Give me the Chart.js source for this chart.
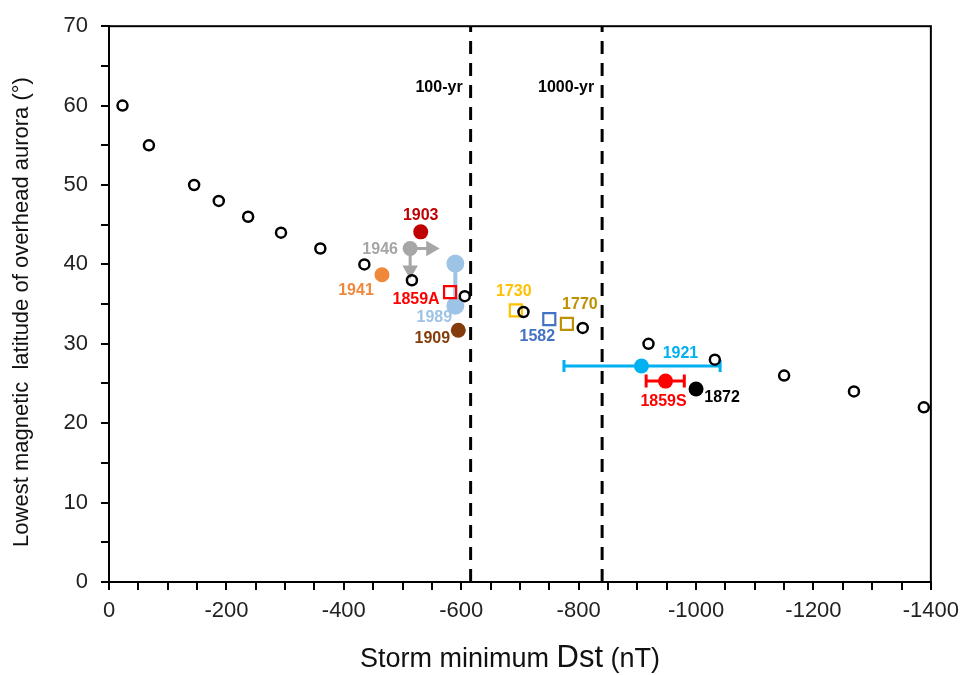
<!DOCTYPE html>
<html>
<head>
<meta charset="utf-8">
<script src="https://cdn.jsdelivr.net/npm/chart.js@4.4.0/dist/chart.umd.min.js"></script>
<style>
  html, body { margin: 0; padding: 0; background: #fff; }
</style>
</head>
<body>
<canvas id="auroraChart" width="967" height="675"></canvas>
<script>
// empirical Dst - latitude relation (open circles)
const curveDst = [-23, -68, -145, -187, -237, -293, -360, -435, -516, -606, -706, -807, -919, -1032, -1150, -1269, -1388];
const curveLat = [60, 55, 50, 48, 46, 44, 42, 40, 38, 36, 34, 32, 30, 28, 26, 24, 22];

// storms with Dst estimates (filled circles)
const stormNames = ["1903", "1946", "1941", "1909", "1921", "1859S", "1872"];
const stormDst = [-531, -513, -465, -595, -907, -948, -1000];
const stormLat = [44.1, 42, 38.7, 31.7, 27.2, 25.3, 24.3];
const stormColors = ["#c00000", "#a6a6a6", "#f0883c", "#843c0c", "#00b0f0", "#ff0000", "#000000"];

// storms from aurora records (open squares)
const recordNames = ["1859A", "1730", "1582", "1770"];
const recordDst = [-581, -693, -750, -780];
const recordLat = [36.5, 34.2, 33.1, 32.5];
const recordColors = ["#ff0000", "#ffc000", "#4472c4", "#bf9000"];

// 1989: latitude range
const dst1989 = -590;
const lat1989 = [40.1, 34.8];

// Dst uncertainty ranges
const range1921 = [-775, -1041];
const range1859S = [-915, -980];

// 1946 arrow heads (limits)
const arrow1946Dst = -548;
const arrow1946Lat = 39.3;

// return levels
const returnNames = ["100-yr", "1000-yr"];
const returnDst = [-616, -840];

const FONT = '"Liberation Sans", Arial, sans-serif';

function seg(xs, ys) {
  return xs.map((v, i) => ({ x: v, y: ys[i] }));
}

const labelOffsets = {
  "1903": [0, -16], "1946": [-30, 1], "1941": [-26, 16], "1909": [-26, 8],
  "1921": [39, -12], "1859S": [-2, 20], "1872": [26, 9],
  "1859A": [-34, 7], "1730": [-2, -19], "1582": [-12, 17], "1770": [13, -19]
};

const labelPlugin = {
  id: "stormLabels",
  afterDatasetsDraw(chart) {
    const { ctx, chartArea, scales: { x, y } } = chart;
    ctx.save();
    ctx.textAlign = "center";
    ctx.textBaseline = "middle";
    ctx.font = "bold 16px " + FONT;
    stormNames.forEach((name, i) => {
      const off = labelOffsets[name];
      ctx.fillStyle = name === "1946" ? "#a6a6a6" : stormColors[i];
      ctx.fillText(name, x.getPixelForValue(stormDst[i]) + off[0], y.getPixelForValue(stormLat[i]) + off[1]);
    });
    recordNames.forEach((name, i) => {
      const off = labelOffsets[name];
      ctx.fillStyle = recordColors[i];
      ctx.fillText(name, x.getPixelForValue(recordDst[i]) + off[0], y.getPixelForValue(recordLat[i]) + off[1]);
    });
    ctx.fillStyle = "#9dc3e6";
    ctx.fillText("1989", x.getPixelForValue(dst1989) - 21, y.getPixelForValue(lat1989[1]) + 12);

    ctx.fillStyle = "#000";
    ctx.textAlign = "right";
    returnNames.forEach((name, i) => {
      ctx.fillText(name, x.getPixelForValue(returnDst[i]) - 8, chartArea.top + 61);
    });

    // frame
    ctx.strokeStyle = "#000";
    ctx.lineWidth = 2;
    ctx.strokeRect(chartArea.left, chartArea.top, chartArea.right - chartArea.left, chartArea.bottom - chartArea.top);

    // axis titles
    ctx.textAlign = "center";
    ctx.fillStyle = "#111";
    ctx.font = "22px " + FONT;
    ctx.save();
    ctx.translate(22, 312);
    ctx.rotate(-Math.PI / 2);
    ctx.fillText("Lowest magnetic  latitude of overhead aurora (°)", 0, 0);
    ctx.restore();

    const parts = [["Storm minimum ", 27], ["Dst", 31], [" (nT)", 27]];
    let total = 0;
    parts.forEach(p => { ctx.font = p[1] + "px " + FONT; total += ctx.measureText(p[0]).width; });
    let px = 510 - total / 2;
    ctx.textAlign = "left";
    ctx.textBaseline = "alphabetic";
    parts.forEach(p => {
      ctx.font = p[1] + "px " + FONT;
      ctx.fillText(p[0], px, 667);
      px += ctx.measureText(p[0]).width;
    });
    ctx.restore();
  }
};

new Chart(document.getElementById("auroraChart"), {
  type: "scatter",
  data: {
    datasets: [
      {
        data: seg(curveDst, curveLat),
        pointRadius: 5,
        borderWidth: 2.5,
        borderColor: "#000",
        backgroundColor: "rgba(0,0,0,0)"
      },
      {
        data: seg(stormDst, stormLat),
        pointRadius: 7.5,
        borderWidth: 0,
        pointBackgroundColor: stormColors,
        pointBorderColor: stormColors
      },
      {
        data: seg(recordDst, recordLat),
        pointStyle: "rect",
        pointRadius: 8.5,
        borderWidth: 2.2,
        pointBorderColor: recordColors,
        backgroundColor: "rgba(0,0,0,0)"
      },
      {
        data: seg([dst1989, dst1989], lat1989),
        showLine: true,
        borderColor: "#9dc3e6",
        borderWidth: 4,
        pointRadius: 7,
        pointBackgroundColor: "#9dc3e6",
        pointBorderColor: "#9dc3e6"
      },
      {
        data: seg(range1921, [stormLat[4], stormLat[4]]),
        showLine: true,
        borderColor: "#00b0f0",
        borderWidth: 3,
        pointStyle: "line",
        pointRotation: 90,
        pointRadius: 6,
        pointBorderWidth: 3,
        pointBorderColor: "#00b0f0"
      },
      {
        data: seg(range1859S, [stormLat[5], stormLat[5]]),
        showLine: true,
        borderColor: "#ff0000",
        borderWidth: 3,
        pointStyle: "line",
        pointRotation: 90,
        pointRadius: 6.5,
        pointBorderWidth: 3,
        pointBorderColor: "#ff0000"
      },
      {
        data: seg([stormDst[1], arrow1946Dst], [stormLat[1], stormLat[1]]),
        showLine: true,
        borderColor: "#a6a6a6",
        borderWidth: 3,
        pointStyle: "triangle",
        pointRotation: 90,
        pointRadius: [0, 6],
        pointBackgroundColor: "#a6a6a6",
        pointBorderColor: "#a6a6a6"
      },
      {
        data: seg([stormDst[1], stormDst[1]], [stormLat[1], arrow1946Lat]),
        showLine: true,
        borderColor: "#a6a6a6",
        borderWidth: 3,
        pointStyle: "triangle",
        pointRotation: 180,
        pointRadius: [0, 6],
        pointBackgroundColor: "#a6a6a6",
        pointBorderColor: "#a6a6a6"
      },
      {
        data: seg([returnDst[0], returnDst[0]], [0, 70]),
        showLine: true,
        borderColor: "#000",
        borderWidth: 3,
        borderDash: [13, 9],
        pointRadius: 0
      },
      {
        data: seg([returnDst[1], returnDst[1]], [0, 70]),
        showLine: true,
        borderColor: "#000",
        borderWidth: 3,
        borderDash: [13, 9],
        pointRadius: 0
      }
    ]
  },
  options: {
    responsive: false,
    animation: false,
    layout: { padding: { top: 21, right: 34, left: 0, bottom: 0 } },
    plugins: { legend: { display: false }, tooltip: { enabled: false } },
    scales: {
      x: {
        type: "linear",
        min: -1400,
        max: 0,
        reverse: true,
        afterFit: (scale) => { scale.height = 93; },
        grid: { drawOnChartArea: false, drawTicks: true, tickLength: 8, color: "#000", lineWidth: 2 },
        border: { display: true, color: "#000", width: 2 },
        ticks: {
          stepSize: 50,
          autoSkip: false,
          maxRotation: 0,
          padding: 8,
          color: "#222",
          font: { family: FONT, size: 22 },
          callback: (v) => (v % 200 === 0 ? String(v) : "")
        }
      },
      y: {
        min: 0,
        max: 70,
        afterFit: (scale) => { scale.width = 109; },
        grid: { drawOnChartArea: false, drawTicks: true, tickLength: 8, color: "#000", lineWidth: 2 },
        border: { display: true, color: "#000", width: 2 },
        ticks: {
          stepSize: 5,
          autoSkip: false,
          padding: 13,
          color: "#222",
          font: { family: FONT, size: 22 },
          callback: (v) => (v % 10 === 0 ? String(v) : "")
        }
      }
    }
  },
  plugins: [labelPlugin]
});
</script>
</body>
</html>
